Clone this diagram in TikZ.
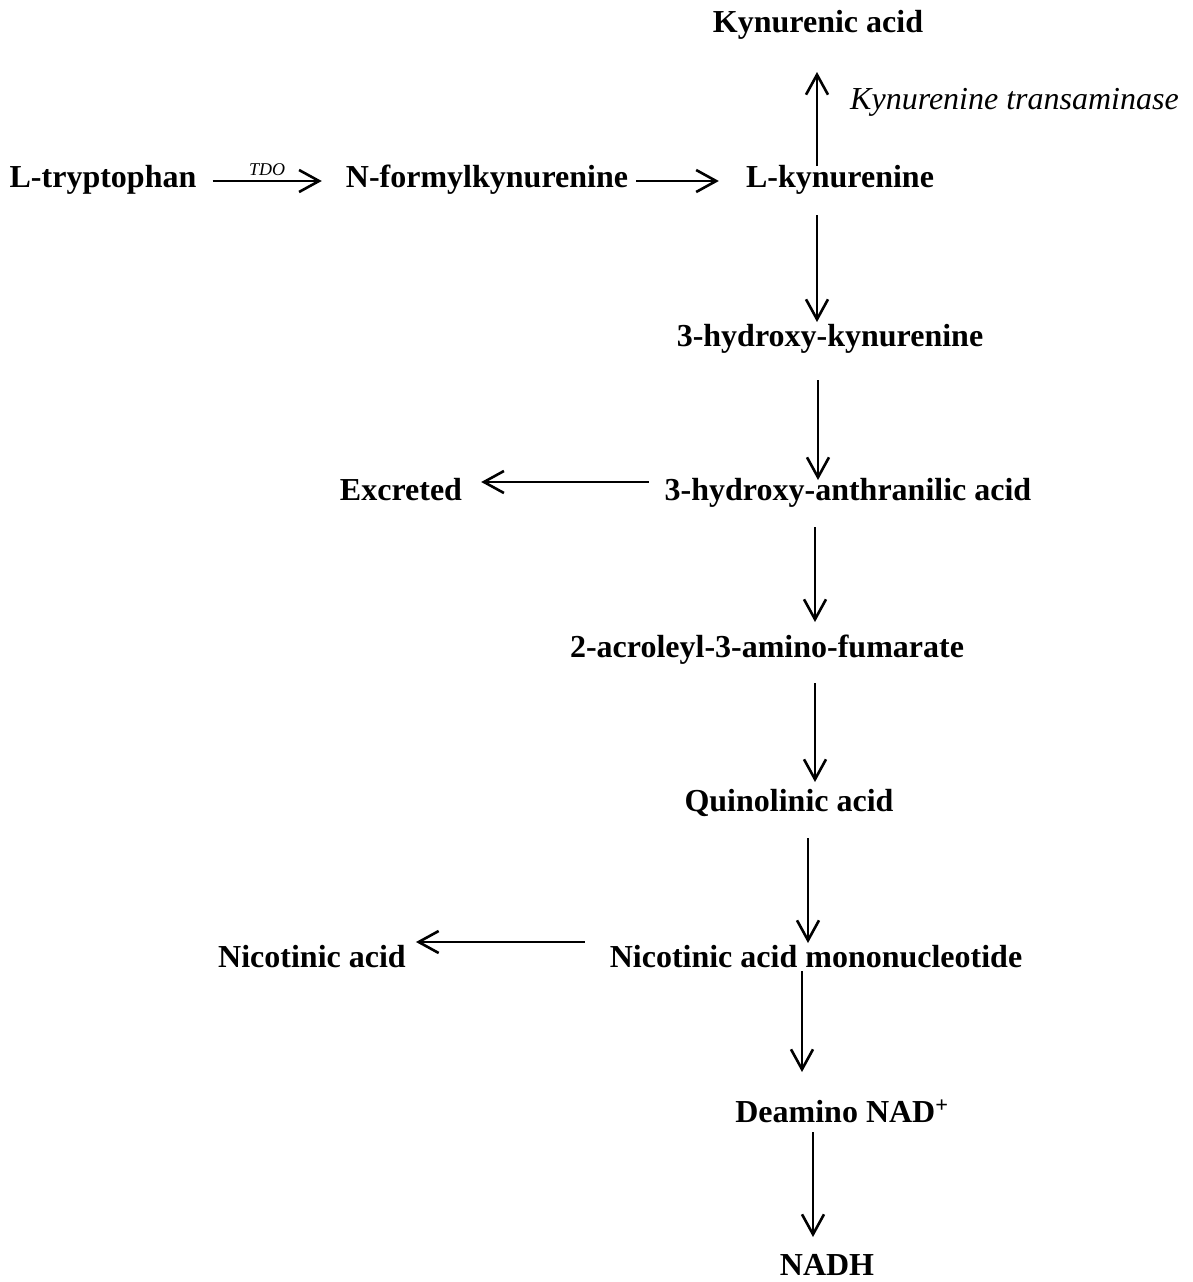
\documentclass[tikz,border=0pt]{standalone}
\usepackage{fontspec}
\setmainfont{Liberation Serif}
\usepackage{tikz}
\usetikzlibrary{arrows.meta, positioning, calc}

\begin{document}
\begin{tikzpicture}[
        x=1pt,y=-1pt,
        compound/.style={inner sep=0pt,anchor=base,
                         font=\fontsize{32}{38}\selectfont\bfseries},
        enzyme/.style={inner sep=0pt,font=\fontsize{32}{38}\selectfont\itshape},
        flow/.style={draw=black,line width=1.8pt,
                     -{Straight Barb[length=20pt,width=22pt,line width=2.6pt]}}
      ]
        \useasboundingbox (0,0) rectangle (1193,1282);
        % compounds
        \node[compound] (kyna) at (818,32) {Kynurenic acid};
        \node[compound] (trp)  at (103,187) {L-tryptophan};
        \node[compound] (nfk)  at (487,187) {N-formylkynurenine};
        \node[compound] (lkyn) at (840,187) {L-kynurenine};
        \node[compound] (hk)   at (830,346) {3-hydroxy-kynurenine};
        \node[compound] (haa)  at (848,500) {3-hydroxy-anthranilic acid};
        \node[compound] (exc)  at (401,500) {Excreted};
        \node[compound] (aam)  at (767,657) {2-acroleyl-3-amino-fumarate};
        \node[compound] (quin) at (789,811) {Quinolinic acid};
        \node[compound] (namn) at (816,967) {Nicotinic acid mononucleotide};
        \node[compound] (na)   at (312,967) {Nicotinic acid};
        \node[compound] (dnad) at (842,1122) {Deamino NAD\textsuperscript{+}};
        \node[compound] (nadh) at (827,1275) {NADH};
        \node[enzyme,anchor=base west] (kt) at (850,109) {Kynurenine transaminase};
        % reactions
        \draw[flow] ($(trp.base east)+(16,-6)$) -- ($(nfk.base west)+(-24,-6)$)
          node[midway,above=4pt,inner sep=0pt,
               font=\fontsize{18}{20}\selectfont\itshape] (tdo) {TDO};
        \draw[flow] ($(nfk.base east)+(8,-6)$) -- ($(lkyn.base west)+(-27,-6)$);
        \draw[flow] ($(lkyn.base)+(-23,-21)$) -- ($(kyna.base)+(-1,40)$);
        \draw[flow] ($(lkyn.base)+(-23,28)$) -- ($(hk.base)+(-13,-24)$);
        \draw[flow] ($(hk.base)+(-12,34)$) -- ($(haa.base)+(-30,-20)$);
        \draw[flow] ($(haa.base west)+(-16,-18)$) -- ($(exc.base east)+(19,-18)$);
        \draw[flow] ($(haa.base)+(-33,27)$) -- ($(aam.base)+(48,-35)$);
        \draw[flow] ($(aam.base)+(48,26)$) -- ($(quin.base)+(26,-29)$);
        \draw[flow] ($(quin.base)+(19,27)$) -- ($(namn.base)+(-8,-24)$);
        \draw[flow] ($(namn.base west)+(-25,-25)$) -- ($(na.base east)+(10,-25)$);
        \draw[flow] ($(namn.base)+(-14,4)$) -- ($(dnad.base)+(-40,-50)$);
        \draw[flow] ($(dnad.base)+(-29,10)$) -- ($(nadh.base)+(-14,-38)$);
      \end{tikzpicture}
\end{document}
